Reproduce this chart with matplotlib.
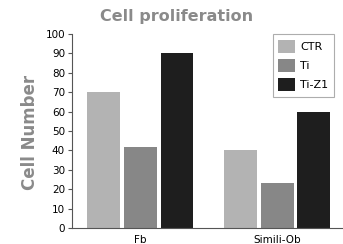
import numpy as np
import matplotlib.pyplot as plt

groups = ['Fb', 'Simili-Ob']
series = ['CTR', 'Ti', 'Ti-Z1']
values = {
    'CTR': [70, 40],
    'Ti': [42, 23],
    'Ti-Z1': [90, 60],
}
colors = ['#b3b3b3', '#878787', '#1e1e1e']
yticks = list(range(0, 101, 10))

fig = plt.figure(figsize=(3.43, 2.44), dpi=100)
ax = fig.add_axes([72/343, 1 - 228/244, 271/343, 194/244])

x = np.arange(len(groups))
width = 0.24
step = 0.267
for i, (name, col) in enumerate(zip(series, colors)):
    ax.bar(x + (i - 1) * step, values[name], width, color=col, label=name)

ax.set_xlim(-0.5, 1.48)
ax.set_ylim(0, 100)
ax.set_yticks(yticks)
ax.set_xticks(x)
ax.set_xticklabels(groups)
ax.tick_params(axis='y', labelsize=7.5, length=3, width=0.8, color='#555555', pad=2)
ax.tick_params(axis='x', labelsize=7.5, length=0, pad=5)
for s in ['top', 'right']:
    ax.spines[s].set_visible(False)
for s in ['left', 'bottom']:
    ax.spines[s].set_color('#555555')
    ax.spines[s].set_linewidth(0.8)

fig.text(177/343, 1 - 17/244, 'Cell proliferation', ha='center', va='center',
         fontsize=11.5, fontweight='bold', color='#8a8a8a')
fig.text(30/343, 1 - 132/244, 'Cell Number', ha='center', va='center', rotation=90,
         fontsize=12, fontweight='bold', color='#8a8a8a')

leg = ax.legend(loc='upper right', bbox_to_anchor=(262/271, 1.0), fontsize=8,
                fancybox=False, handlelength=1.5, handleheight=1.5,
                handletextpad=0.5, labelspacing=0.5, borderpad=0.5,
                borderaxespad=0)
leg.get_frame().set_edgecolor('#999999')
leg.get_frame().set_linewidth(0.8)

fig.savefig('out.png', dpi=100)
